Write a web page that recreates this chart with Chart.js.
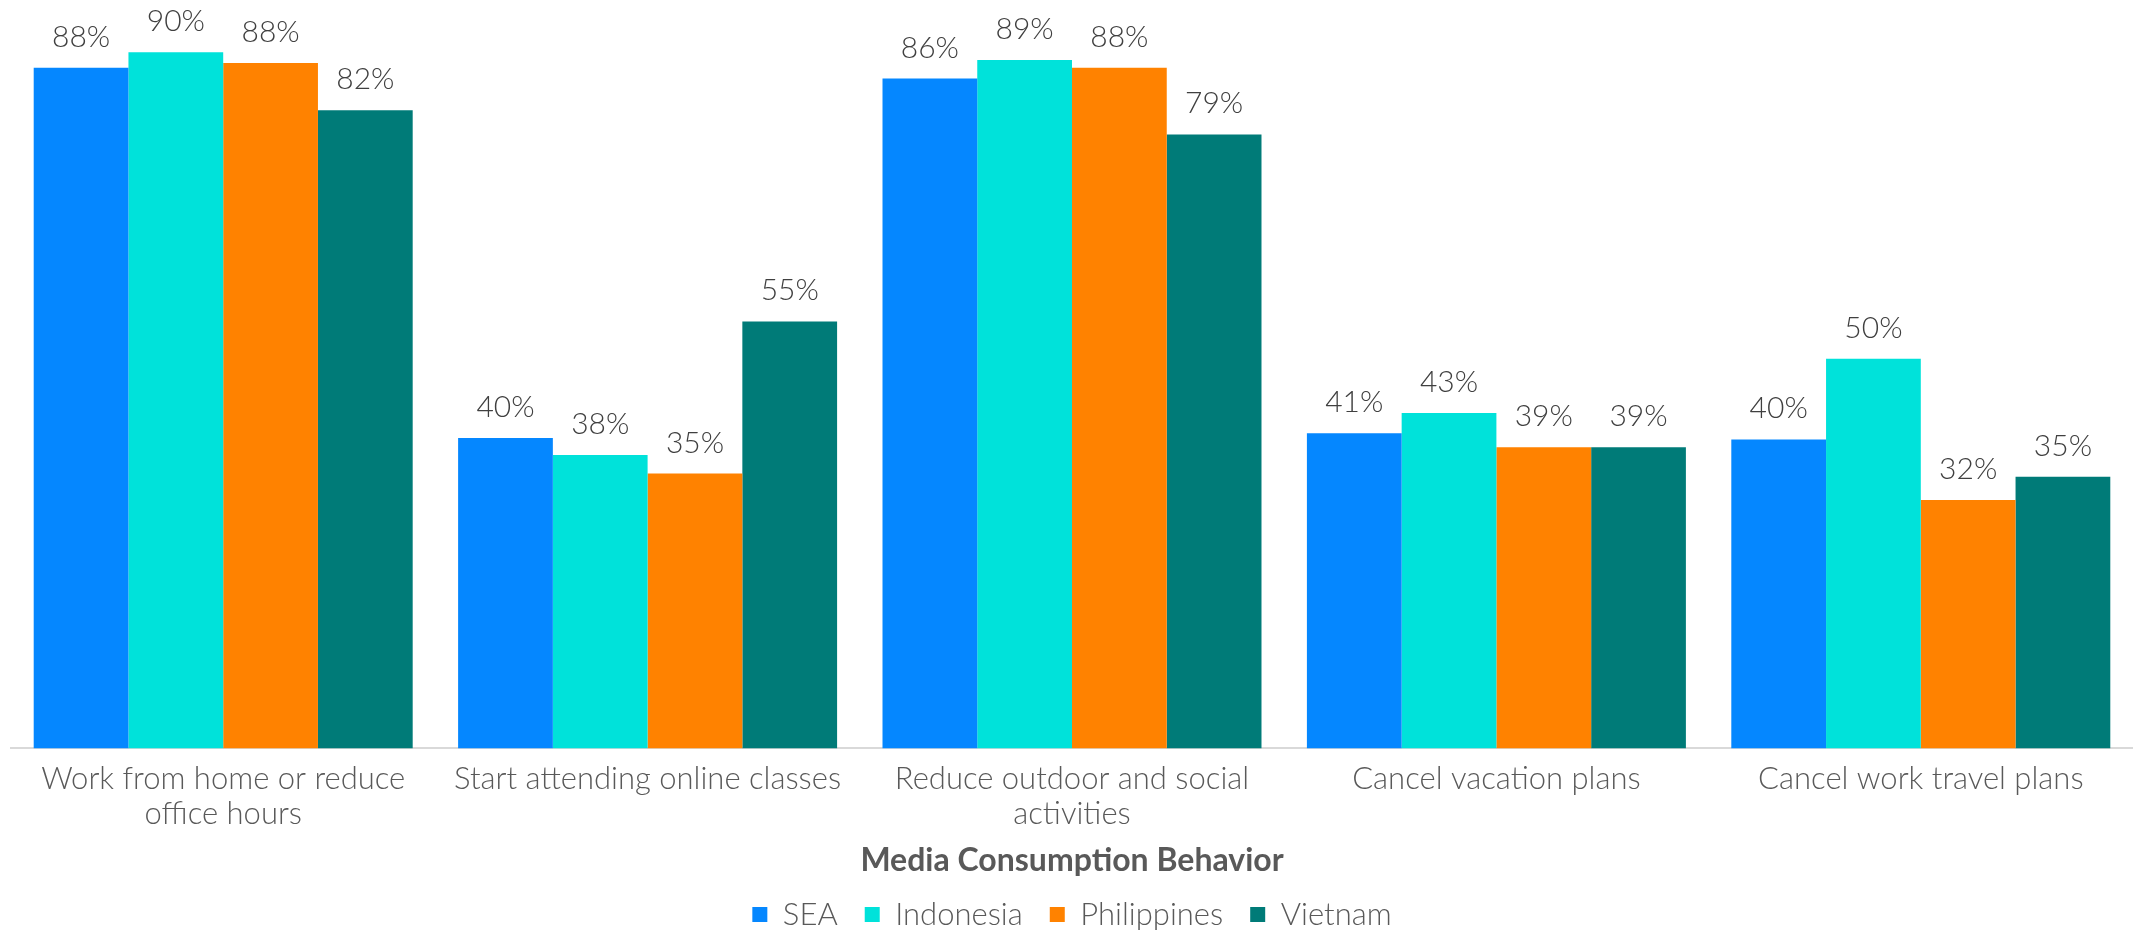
<!DOCTYPE html>
<html>
<head>
<meta charset="utf-8">
<script src="https://cdn.jsdelivr.net/npm/chart.js@4.4.1/dist/chart.umd.min.js"></script>
<style>
  html, body { margin: 0; padding: 0; background: #fff; }
  #wrap { width: 2133px; height: 930px; }
</style>
</head>
<body>
<div id="wrap"><canvas id="myChart" width="2133" height="930"></canvas></div>
<script>
const categories = [
  ['Work from home or reduce', 'office hours'],
  'Start attending online classes',
  ['Reduce outdoor and social', 'activities'],
  'Cancel vacation plans',
  'Cancel work travel plans'
];
const seriesNames = ['SEA', 'Indonesia', 'Philippines', 'Vietnam'];
const seaValues = [87.7, 40.0, 86.3, 40.6, 39.8];
const indonesiaValues = [89.7, 37.8, 88.7, 43.2, 50.2];
const philippinesValues = [88.3, 35.4, 87.7, 38.8, 32.0];
const vietnamValues = [82.2, 55.0, 79.1, 38.8, 35.0];
const colors = ['#0587FF', '#00E2DA', '#FF8200', '#007B78'];

const fontFamily = 'Lato, "Open Sans", sans-serif';

// value labels above each bar
const barLabels = {
  id: 'barLabels',
  afterDatasetsDraw(chart) {
    const ctx = chart.ctx;
    ctx.save();
    ctx.font = '300 30px ' + fontFamily;
    ctx.fillStyle = '#404040';
    ctx.textAlign = 'center';
    ctx.textBaseline = 'alphabetic';
    chart.data.datasets.forEach((ds, i) => {
      chart.getDatasetMeta(i).data.forEach((bar, j) => {
        ctx.fillText(Math.round(ds.data[j]) + '%', bar.x, bar.y - 21);
      });
    });
    ctx.restore();
  }
};

function makeChart() {
  const ctx = document.getElementById('myChart');
  const allValues = [seaValues, indonesiaValues, philippinesValues, vietnamValues];

  return new Chart(ctx, {
    type: 'bar',
    data: {
      labels: categories,
      datasets: seriesNames.map((name, i) => ({
        label: name,
        data: allValues[i],
        backgroundColor: colors[i],
        borderWidth: 0,
        barPercentage: 1,
        categoryPercentage: 0.893
      }))
    },
    options: {
      responsive: false,
      animation: false,
      layout: { padding: { left: 11, right: 0, top: 11, bottom: -10 } },
      scales: {
        y: { display: false, min: 0, max: 95 },
        x: {
          grid: { display: false, drawTicks: false },
          border: { display: true, color: '#D9D9D9', width: 2 },
          ticks: {
            color: '#595959',
            padding: 14,
            maxRotation: 0,
            autoSkip: false,
            font: { family: fontFamily, size: 31, weight: '300', lineHeight: 1.1 }
          },
          title: {
            display: true,
            text: 'Media Consumption Behavior',
            color: '#595959',
            font: { family: fontFamily, size: 32, weight: 'bold' },
            padding: { top: -3, bottom: -8 }
          }
        }
      },
      plugins: {
        tooltip: { enabled: false },
        legend: {
          position: 'bottom',
          labels: {
            color: '#595959',
            boxWidth: 15,
            boxHeight: 15,
            padding: 27,
            font: { family: fontFamily, size: 31, weight: '300' }
          }
        }
      }
    },
    plugins: [barLabels]
  });
}

document.addEventListener('DOMContentLoaded', () => makeChart());
</script>
</body>
</html>
